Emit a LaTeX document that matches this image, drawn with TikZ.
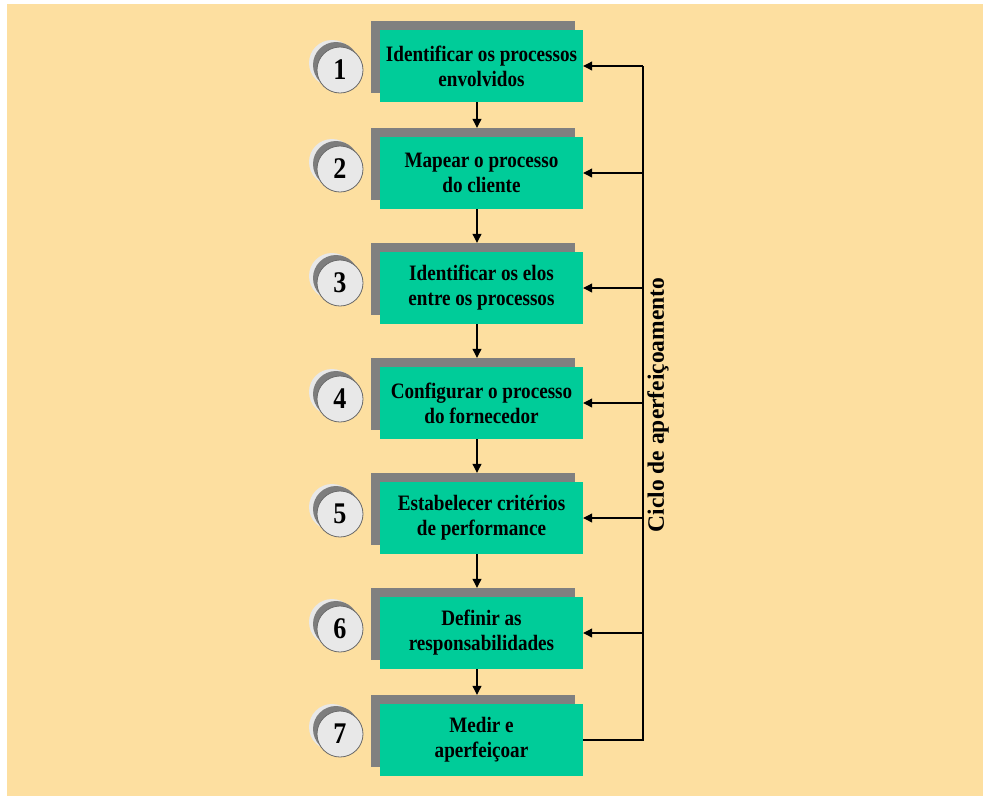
\documentclass[tikz,border=0pt]{standalone}
\usepackage{fontspec}
\setmainfont{Liberation Serif}
\newfontfamily\narrowserif{Liberation Serif}[FakeStretch=0.87]
\usetikzlibrary{arrows.meta,calc}

\definecolor{paper}{RGB}{253,223,160}
\definecolor{stepgreen}{RGB}{0,204,153}
\definecolor{shadegray}{RGB}{128,128,128}
\definecolor{disclight}{RGB}{232,232,232}
\definecolor{discdark}{RGB}{125,125,125}
\definecolor{discrim}{RGB}{105,105,105}

\tikzset{
  stepbox/.style={fill=stepgreen, minimum width=203pt, minimum height=72pt,
    inner sep=0pt, align=center,
    font=\narrowserif\bfseries\fontsize{22}{25}\selectfont},
  shadebox/.style={fill=shadegray, minimum width=204pt, minimum height=72pt, inner sep=0pt},
  discback/.style={circle, fill=disclight, minimum size=46pt, inner sep=0pt},
  discmid/.style={circle, fill=discdark, minimum size=46pt, inner sep=0pt},
  discfront/.style={circle, fill=disclight, draw=discrim, line width=0.8pt,
    minimum size=46pt, inner sep=0pt,
    font=\narrowserif\bfseries\fontsize{30}{30}\selectfont},
  flow/.style={line width=1.1pt, -{Triangle[length=9pt,width=9pt]}},
  loopline/.style={line width=1.1pt},
}

\begin{document}
\begin{tikzpicture}[x=1pt,y=-1pt]
  % page and panel
  \useasboundingbox (0,0) rectangle (983,796);
  \fill[white] (0,0) rectangle (983,796);
  \fill[paper] (7,4) rectangle (983,796);

  % shadows behind the step boxes
  \node[shadebox] (s1) at (473,57)  {};
  \node[shadebox] (s2) at (473,164) {};
  \node[shadebox] (s3) at (473,279) {};
  \node[shadebox] (s4) at (473,394) {};
  \node[shadebox] (s5) at (473,509) {};
  \node[shadebox] (s6) at (473,624) {};
  \node[shadebox] (s7) at (473,731) {};

  % step boxes
  \node[stepbox] (b1) at (481.5,66)  {Identificar os processos\\envolvidos};
  \node[stepbox] (b2) at (481.5,173) {Mapear o processo\\do cliente};
  \node[stepbox] (b3) at (481.5,288) {Identificar os elos\\entre os processos};
  \node[stepbox] (b4) at (481.5,403) {Configurar o processo\\do fornecedor};
  \node[stepbox] (b5) at (481.5,518) {Estabelecer critérios\\de performance};
  \node[stepbox] (b6) at (481.5,633) {Definir as\\responsabilidades};
  \node[stepbox] (b7) at (481.5,740) {Medir e\\aperfeiçoar};

  % numbered discs
  \foreach \k/\cy in {1/70,2/169,3/283,4/399,5/514,6/629,7/734}{
    \node[discback] (db\k) at (332,\cy-7) {};
    \node[discmid]  (dm\k) at (336,\cy-5) {};
    \node[discfront] (n\k) at (340,\cy) {\k};
  }

  % downward flow between steps
  \coordinate (axis) at (477,0);
  \draw[flow] (axis |- b1.south) -- (axis |- s2.north);
  \draw[flow] (axis |- b2.south) -- (axis |- s3.north);
  \draw[flow] (axis |- b3.south) -- (axis |- s4.north);
  \draw[flow] (axis |- b4.south) -- (axis |- s5.north);
  \draw[flow] (axis |- b5.south) -- (axis |- s6.north);
  \draw[flow] (axis |- b6.south) -- (axis |- s7.north);

  % improvement loop on the right
  \coordinate (loop) at (643,0);
  \draw[loopline] (b7.east) -- (loop |- b7.east) -- (loop |- b1.east);
  \foreach \k in {1,...,6}{
    \draw[flow] (loop |- b\k.east) -- (b\k.east);
  }

  \node[rotate=90, inner sep=0pt,
        font=\bfseries\fontsize{23.5}{23.5}\selectfont] (cycle) at (658,405)
        {Ciclo de aperfeiçoamento};
\end{tikzpicture}
\end{document}
